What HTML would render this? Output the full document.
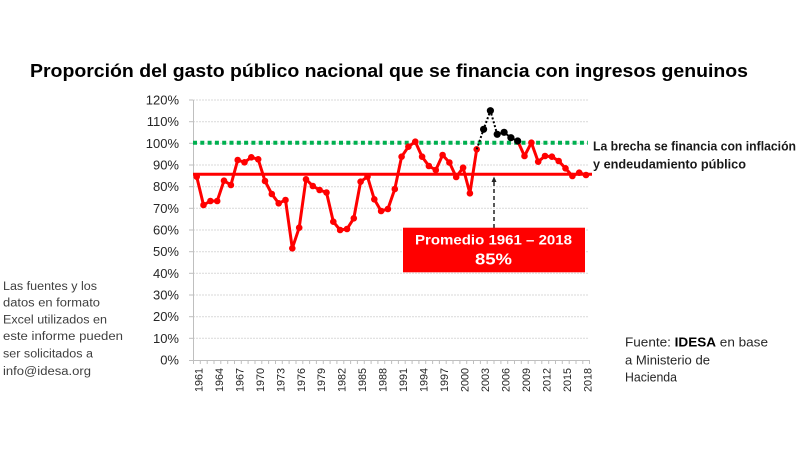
<!DOCTYPE html>
<html><head><meta charset="utf-8"><style>
html,body{margin:0;padding:0;background:#fff;}
svg{display:block;}
text{font-family:"Liberation Sans",Arial,sans-serif;}
</style></head><body>
<svg width="800" height="453" viewBox="0 0 800 453" xmlns="http://www.w3.org/2000/svg">
<rect width="800" height="453" fill="#fff"/>
<!-- Title -->
<text x="30" y="77" font-size="18.5" font-weight="bold" fill="#000" textLength="718" lengthAdjust="spacingAndGlyphs">Proporción del gasto público nacional que se financia con ingresos genuinos</text>

<!-- gridlines -->
<g stroke="#d9d9d9" stroke-width="1" stroke-dasharray="2,1">
<line x1="193" y1="100" x2="589" y2="100"/>
<line x1="193" y1="121.7" x2="589" y2="121.7"/>
<line x1="193" y1="143.3" x2="589" y2="143.3"/>
<line x1="193" y1="165" x2="589" y2="165"/>
<line x1="193" y1="186.7" x2="589" y2="186.7"/>
<line x1="193" y1="208.3" x2="589" y2="208.3"/>
<line x1="193" y1="230" x2="589" y2="230"/>
<line x1="193" y1="251.7" x2="589" y2="251.7"/>
<line x1="193" y1="273.3" x2="589" y2="273.3"/>
<line x1="193" y1="295" x2="589" y2="295"/>
<line x1="193" y1="316.7" x2="589" y2="316.7"/>
<line x1="193" y1="338.3" x2="589" y2="338.3"/>
</g>
<!-- axes -->
<g stroke="#bfbfbf" stroke-width="1">
<line x1="193.5" y1="100" x2="193.5" y2="360"/>
<line x1="193" y1="360.5" x2="589.5" y2="360.5"/>
<line x1="189" y1="100" x2="193" y2="100"/>
<line x1="189" y1="121.7" x2="193" y2="121.7"/>
<line x1="189" y1="143.3" x2="193" y2="143.3"/>
<line x1="189" y1="165" x2="193" y2="165"/>
<line x1="189" y1="186.7" x2="193" y2="186.7"/>
<line x1="189" y1="208.3" x2="193" y2="208.3"/>
<line x1="189" y1="230" x2="193" y2="230"/>
<line x1="189" y1="251.7" x2="193" y2="251.7"/>
<line x1="189" y1="273.3" x2="193" y2="273.3"/>
<line x1="189" y1="295" x2="193" y2="295"/>
<line x1="189" y1="316.7" x2="193" y2="316.7"/>
<line x1="189" y1="338.3" x2="193" y2="338.3"/>
<line x1="189" y1="360.5" x2="193" y2="360.5"/>
</g>
<path id="ticks" stroke="#bfbfbf" stroke-width="1" d="M193.5 360v4M200.3 360v4M207.2 360v4M214 360v4M220.8 360v4M227.7 360v4M234.5 360v4M241.3 360v4M248.1 360v4M255 360v4M261.8 360v4M268.6 360v4M275.5 360v4M282.3 360v4M289.1 360v4M296 360v4M302.8 360v4M309.6 360v4M316.4 360v4M323.3 360v4M330.1 360v4M336.9 360v4M343.8 360v4M350.6 360v4M357.4 360v4M364.3 360v4M371.1 360v4M377.9 360v4M384.7 360v4M391.6 360v4M398.4 360v4M405.2 360v4M412.1 360v4M418.9 360v4M425.7 360v4M432.6 360v4M439.4 360v4M446.2 360v4M453 360v4M459.9 360v4M466.7 360v4M473.5 360v4M480.4 360v4M487.2 360v4M494 360v4M500.9 360v4M507.7 360v4M514.5 360v4M521.3 360v4M528.2 360v4M535 360v4M541.8 360v4M548.7 360v4M555.5 360v4M562.3 360v4M569.2 360v4M576 360v4M582.8 360v4M589.5 360v4"/>

<!-- y labels -->
<g font-size="13" fill="#262626" text-anchor="end">
<text x="179" y="104.5">120%</text>
<text x="179" y="126.2">110%</text>
<text x="179" y="147.8">100%</text>
<text x="179" y="169.5">90%</text>
<text x="179" y="191.2">80%</text>
<text x="179" y="212.8">70%</text>
<text x="179" y="234.5">60%</text>
<text x="179" y="256.2">50%</text>
<text x="179" y="277.8">40%</text>
<text x="179" y="299.5">30%</text>
<text x="179" y="321.2">20%</text>
<text x="179" y="342.8">10%</text>
<text x="179" y="364.5">0%</text>
</g>

<!-- x labels -->
<g font-size="11" fill="#262626">
<text transform="translate(202.3,392) rotate(-90)" textLength="24" lengthAdjust="spacingAndGlyphs">1961</text>
<text transform="translate(222.8,392) rotate(-90)" textLength="24" lengthAdjust="spacingAndGlyphs">1964</text>
<text transform="translate(243.3,392) rotate(-90)" textLength="24" lengthAdjust="spacingAndGlyphs">1967</text>
<text transform="translate(263.8,392) rotate(-90)" textLength="24" lengthAdjust="spacingAndGlyphs">1970</text>
<text transform="translate(284.3,392) rotate(-90)" textLength="24" lengthAdjust="spacingAndGlyphs">1973</text>
<text transform="translate(304.8,392) rotate(-90)" textLength="24" lengthAdjust="spacingAndGlyphs">1976</text>
<text transform="translate(325.2,392) rotate(-90)" textLength="24" lengthAdjust="spacingAndGlyphs">1979</text>
<text transform="translate(345.7,392) rotate(-90)" textLength="24" lengthAdjust="spacingAndGlyphs">1982</text>
<text transform="translate(366.2,392) rotate(-90)" textLength="24" lengthAdjust="spacingAndGlyphs">1985</text>
<text transform="translate(386.7,392) rotate(-90)" textLength="24" lengthAdjust="spacingAndGlyphs">1988</text>
<text transform="translate(407.2,392) rotate(-90)" textLength="24" lengthAdjust="spacingAndGlyphs">1991</text>
<text transform="translate(427.7,392) rotate(-90)" textLength="24" lengthAdjust="spacingAndGlyphs">1994</text>
<text transform="translate(448.2,392) rotate(-90)" textLength="24" lengthAdjust="spacingAndGlyphs">1997</text>
<text transform="translate(468.7,392) rotate(-90)" textLength="24" lengthAdjust="spacingAndGlyphs">2000</text>
<text transform="translate(489.2,392) rotate(-90)" textLength="24" lengthAdjust="spacingAndGlyphs">2003</text>
<text transform="translate(509.7,392) rotate(-90)" textLength="24" lengthAdjust="spacingAndGlyphs">2006</text>
<text transform="translate(530.2,392) rotate(-90)" textLength="24" lengthAdjust="spacingAndGlyphs">2009</text>
<text transform="translate(550.6,392) rotate(-90)" textLength="24" lengthAdjust="spacingAndGlyphs">2012</text>
<text transform="translate(571.1,392) rotate(-90)" textLength="24" lengthAdjust="spacingAndGlyphs">2015</text>
<text transform="translate(591.6,392) rotate(-90)" textLength="24" lengthAdjust="spacingAndGlyphs">2018</text>
</g>

<!-- green 100% dotted line -->
<line x1="193" y1="142.7" x2="588" y2="142.7" stroke="#00b050" stroke-width="4" stroke-dasharray="4,3.3"/>

<!-- average line -->
<line x1="193" y1="174.3" x2="592" y2="174.3" stroke="#ff0000" stroke-width="3"/>

<!-- red series -->
<g stroke="#ff0000" stroke-width="3" fill="none" stroke-linejoin="round">
<polyline points="196.7,176.7 203.5,205 210.4,201 217.2,201 224,180.7 230.9,185 237.7,160 244.5,162.3 251.3,157.3 258.2,159.3 265,181 271.8,194 278.7,203.3 285.5,200 292.3,248.3 299.2,227.7 306,179.3 312.8,186 319.6,190 326.5,192.5 333.3,221.7 340.1,230 347,229 353.8,218.3 360.6,181.7 367.5,176.7 374.3,199.3 381.1,211 387.9,209 394.8,189 401.6,156.7 408.4,146.7 415.3,141.7 422.1,156.7 428.9,166 435.8,170 442.6,155 449.4,162.5 456.2,177 463.1,167.7 469.9,193.3 476.7,149.3"/>
<polyline points="517.7,141 524.5,156 531.4,142.7 538.2,161.7 545,156 551.9,156.7 558.7,161 565.5,168.3 572.4,176 579.2,172.7 586,175"/>
</g>
<g fill="#ff0000">
<circle cx="196.7" cy="176.7" r="3.3"/><circle cx="203.5" cy="205" r="3.3"/><circle cx="210.4" cy="201" r="3.3"/><circle cx="217.2" cy="201" r="3.3"/><circle cx="224" cy="180.7" r="3.3"/><circle cx="230.9" cy="185" r="3.3"/><circle cx="237.7" cy="160" r="3.3"/><circle cx="244.5" cy="162.3" r="3.3"/><circle cx="251.3" cy="157.3" r="3.3"/><circle cx="258.2" cy="159.3" r="3.3"/><circle cx="265" cy="181" r="3.3"/><circle cx="271.8" cy="194" r="3.3"/><circle cx="278.7" cy="203.3" r="3.3"/><circle cx="285.5" cy="200" r="3.3"/><circle cx="292.3" cy="248.3" r="3.3"/><circle cx="299.2" cy="227.7" r="3.3"/><circle cx="306" cy="179.3" r="3.3"/><circle cx="312.8" cy="186" r="3.3"/><circle cx="319.6" cy="190" r="3.3"/><circle cx="326.5" cy="192.5" r="3.3"/><circle cx="333.3" cy="221.7" r="3.3"/><circle cx="340.1" cy="230" r="3.3"/><circle cx="347" cy="229" r="3.3"/><circle cx="353.8" cy="218.3" r="3.3"/><circle cx="360.6" cy="181.7" r="3.3"/><circle cx="367.5" cy="176.7" r="3.3"/><circle cx="374.3" cy="199.3" r="3.3"/><circle cx="381.1" cy="211" r="3.3"/><circle cx="387.9" cy="209" r="3.3"/><circle cx="394.8" cy="189" r="3.3"/><circle cx="401.6" cy="156.7" r="3.3"/><circle cx="408.4" cy="146.7" r="3.3"/><circle cx="415.3" cy="141.7" r="3.3"/><circle cx="422.1" cy="156.7" r="3.3"/><circle cx="428.9" cy="166" r="3.3"/><circle cx="435.8" cy="170" r="3.3"/><circle cx="442.6" cy="155" r="3.3"/><circle cx="449.4" cy="162.5" r="3.3"/><circle cx="456.2" cy="177" r="3.3"/><circle cx="463.1" cy="167.7" r="3.3"/><circle cx="469.9" cy="193.3" r="3.3"/><circle cx="476.7" cy="149.3" r="3.3"/>
<circle cx="524.5" cy="156" r="3.3"/><circle cx="531.4" cy="142.7" r="3.3"/><circle cx="538.2" cy="161.7" r="3.3"/><circle cx="545" cy="156" r="3.3"/><circle cx="551.9" cy="156.7" r="3.3"/><circle cx="558.7" cy="161" r="3.3"/><circle cx="565.5" cy="168.3" r="3.3"/><circle cx="572.4" cy="176" r="3.3"/><circle cx="579.2" cy="172.7" r="3.3"/><circle cx="586" cy="175" r="3.3"/>
</g>

<!-- black dotted series -->
<polyline points="476.7,149.3 483.6,129.3 490.4,110.7 497.2,134.3 504.1,132.3 510.9,137.7 517.7,141" stroke="#000" stroke-width="2" stroke-dasharray="2,2" fill="none"/>
<g fill="#000">
<circle cx="483.6" cy="129.3" r="3.6"/><circle cx="490.4" cy="110.7" r="3.6"/><circle cx="497.2" cy="134.3" r="3.6"/><circle cx="504.1" cy="132.3" r="3.6"/><circle cx="510.9" cy="137.7" r="3.6"/><circle cx="517.7" cy="141" r="3.6"/>
</g>

<!-- dashed arrow -->
<line x1="494" y1="228" x2="494" y2="182" stroke="#222" stroke-width="1.5" stroke-dasharray="4,3"/>
<polygon points="494,176.5 491.5,182 496.5,182" fill="#222"/>

<!-- red box -->
<rect x="403" y="227.7" width="182" height="44.6" fill="#ff0000"/>
<text x="415" y="244.5" font-size="14" font-weight="bold" fill="#fff" textLength="157" lengthAdjust="spacingAndGlyphs">Promedio 1961 – 2018</text>
<text x="475" y="264.5" font-size="16" font-weight="bold" fill="#fff" textLength="37" lengthAdjust="spacingAndGlyphs">85%</text>

<!-- right annotation -->
<text x="593" y="150.5" font-size="12.5" font-weight="bold" fill="#1a1a1a" textLength="203" lengthAdjust="spacingAndGlyphs">La brecha se financia con inflación</text>
<text x="593" y="168.3" font-size="12.5" font-weight="bold" fill="#1a1a1a" textLength="153" lengthAdjust="spacingAndGlyphs">y endeudamiento público</text>

<!-- left note -->
<g font-size="11.5" fill="#404040">
<text x="3" y="290" textLength="94" lengthAdjust="spacingAndGlyphs">Las fuentes y los</text>
<text x="3" y="306.5" textLength="97" lengthAdjust="spacingAndGlyphs">datos en formato</text>
<text x="3" y="323.3" textLength="104" lengthAdjust="spacingAndGlyphs">Excel utilizados en</text>
<text x="3" y="340" textLength="120" lengthAdjust="spacingAndGlyphs">este informe pueden</text>
<text x="3" y="357.3" textLength="90" lengthAdjust="spacingAndGlyphs">ser solicitados a</text>
<text x="3" y="375" textLength="88" lengthAdjust="spacingAndGlyphs">info@idesa.org</text>
</g>

<!-- source -->
<g font-size="12.5" fill="#262626">
<text x="625" y="346.7" textLength="143" lengthAdjust="spacingAndGlyphs">Fuente: <tspan font-weight="bold" fill="#000">IDESA</tspan> en base</text>
<text x="625" y="364.3" textLength="85" lengthAdjust="spacingAndGlyphs">a Ministerio de</text>
<text x="625" y="381.7" textLength="52" lengthAdjust="spacingAndGlyphs">Hacienda</text>
</g>
</svg>
</body></html>
